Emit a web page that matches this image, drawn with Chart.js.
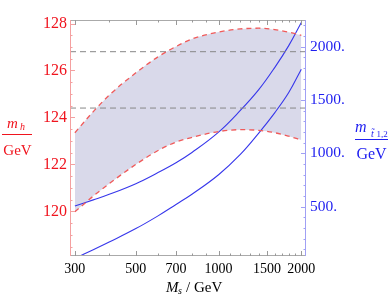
<!DOCTYPE html>
<html>
<head>
<meta charset="utf-8">
<script src="https://cdn.jsdelivr.net/npm/chart.js@4/dist/chart.umd.min.js"></script>
<style>
  html, body { margin: 0; padding: 0; background: #fff; }
  #wrap { width: 391px; height: 301px; position: relative; }
</style>
</head>
<body>
<div id="wrap"><canvas id="chart"></canvas></div>
<script>
// M_s sample points (GeV)
const msValues = [300, 350, 400, 500, 600, 700, 800, 1000, 1200, 1400, 1600, 1800, 2000];
// m_h band edges (GeV, left axis)
const mhUpper = [123.35, 124.25, 124.95, 125.9, 126.57, 127.02, 127.34, 127.64, 127.77, 127.8, 127.74, 127.63, 127.5];
const mhLower = [119.98, 120.65, 121.18, 122.0, 122.58, 122.95, 123.15, 123.4, 123.48, 123.45, 123.35, 123.2, 123.04];
// stop masses (GeV, right axis)
const mStop1 = [507, 564, 616, 716, 818, 912, 1008, 1199, 1402, 1597, 1804, 2010, 2227];
const mStop2 = [15, 97, 169, 295, 412, 521, 617, 800, 990, 1190, 1380, 1570, 1789];
// horizontal reference lines for m_h
const mhRefLines = [126.8, 124.4];

const xTicks = [300, 500, 700, 1000, 1500, 2000];
const xMinorTicks = [400, 600, 800, 900, 1100, 1200, 1300, 1400, 1600, 1700, 1800, 1900];
const mhTicks = [120, 122, 124, 126, 128];
const stopTicks = [500, 1000, 1500, 2000];

const xRange = [288, 2080];
const mhRange = [118.1, 128.15];
const stopRange = [38, 2250];

const serif = '"Liberation Serif", "DejaVu Serif", serif';
const RED = '#f0141e';
const BLUE = '#1e1ef0';

const pts = (ys) => msValues.map((x, i) => ({ x: x, y: ys[i] }));

const datasets = [
  {
    data: pts(mhUpper), yAxisID: 'yL',
    borderColor: 'rgb(240,90,90)', borderWidth: 1.3, borderDash: [5, 4],
    fill: '+1', backgroundColor: 'rgb(217,217,234)',
    pointRadius: 0, cubicInterpolationMode: 'monotone'
  },
  {
    data: pts(mhLower), yAxisID: 'yL',
    borderColor: 'rgb(240,90,90)', borderWidth: 1.3, borderDash: [5, 4],
    fill: false, pointRadius: 0, cubicInterpolationMode: 'monotone'
  }
];
mhRefLines.forEach(v => {
  datasets.push({
    data: xRange.map(x => ({ x: x, y: v })), yAxisID: 'yL',
    borderColor: 'rgb(135,135,135)', borderWidth: 1, borderDash: [6, 4],
    fill: false, pointRadius: 0
  });
});
[mStop1, mStop2].forEach(s => {
  datasets.push({
    data: pts(s), yAxisID: 'yR',
    borderColor: 'rgb(55,55,235)', borderWidth: 1.1,
    fill: false, pointRadius: 0, tension: 0.4, clip: 0
  });
});

// frame, inward ticks and the fraction-style axis titles
const decor = {
  id: 'decor',
  afterDraw(chart) {
    const ctx = chart.ctx;
    const a = chart.chartArea;
    const sx = chart.scales.x, sl = chart.scales.yL, sr = chart.scales.yR;
    ctx.save();
    ctx.lineWidth = 1;

    const line = (x1, y1, x2, y2, c) => {
      ctx.strokeStyle = c;
      ctx.beginPath(); ctx.moveTo(x1, y1); ctx.lineTo(x2, y2); ctx.stroke();
    };

    // frame
    line(a.left, a.top + 0.5, a.right, a.top + 0.5, '#aaaaaa');
    line(a.left, a.bottom - 0.5, a.right, a.bottom - 0.5, '#aaaaaa');
    line(a.left + 0.5, a.top, a.left + 0.5, a.bottom, '#f4a0a0');
    line(a.right - 0.5, a.top, a.right - 0.5, a.bottom, '#a0a0f4');

    // x ticks (top and bottom)
    const xt = (v, len) => {
      const p = Math.round(sx.getPixelForValue(v)) + 0.5;
      line(p, a.bottom, p, a.bottom - len, '#999999');
      line(p, a.top, p, a.top + len, '#999999');
    };
    xTicks.forEach(v => xt(v, 5));
    xMinorTicks.forEach(v => xt(v, 2.5));

    // left ticks
    for (let v = 118.5; v <= 128.01; v += 0.5) {
      const p = Math.round(sl.getPixelForValue(v)) + 0.5;
      const len = mhTicks.some(t => Math.abs(t - v) < 1e-6) ? 5 : 2.5;
      line(a.left, p, a.left + len, p, '#f4a0a0');
    }
    // right ticks
    for (let v = 100; v <= 2200; v += 100) {
      const p = Math.round(sr.getPixelForValue(v)) + 0.5;
      const len = stopTicks.includes(v) ? 5 : 2.5;
      line(a.right, p, a.right - len, p, '#a0a0f4');
    }

    // left title: m_h / GeV
    ctx.fillStyle = RED;
    ctx.textBaseline = 'alphabetic';
    ctx.textAlign = 'left';
    ctx.font = 'italic 15px ' + serif;
    ctx.fillText('m', 7, 128);
    ctx.font = 'italic 10px ' + serif;
    ctx.fillText('h', 20, 130);
    ctx.strokeStyle = RED;
    ctx.beginPath(); ctx.moveTo(2, 134.5); ctx.lineTo(32, 134.5); ctx.stroke();
    ctx.font = '15px ' + serif;
    ctx.textAlign = 'center';
    ctx.fillText('GeV', 17.5, 155);

    // right title: m_{t~1,2} / GeV
    ctx.fillStyle = BLUE;
    ctx.strokeStyle = BLUE;
    ctx.textAlign = 'left';
    ctx.font = 'italic 16px ' + serif;
    ctx.fillText('m', 355, 131.5);
    ctx.font = 'italic 10px ' + serif;
    ctx.fillText('t\u0303', 371, 136.5);
    ctx.font = '9px ' + serif;
    ctx.fillText('1,2', 376.5, 136.5);
    ctx.beginPath(); ctx.moveTo(355, 139.5); ctx.lineTo(388, 139.5); ctx.stroke();
    ctx.font = '16px ' + serif;
    ctx.textAlign = 'center';
    ctx.fillText('GeV', 371.5, 158.5);

    // x title: M_s / GeV
    ctx.fillStyle = '#000';
    ctx.textAlign = 'left';
    ctx.font = 'italic 15px ' + serif;
    ctx.fillText('M', 166, 291.5);
    ctx.font = 'italic 10px ' + serif;
    ctx.fillText('s', 178, 294);
    ctx.font = '15px ' + serif;
    ctx.fillText('/ GeV', 186, 291.5);

    ctx.restore();
  }
};

new Chart(document.getElementById('chart').getContext('2d'), {
  type: 'line',
  data: { datasets: datasets },
  options: {
    responsive: true,
    maintainAspectRatio: false,
    animation: false,
    layout: { padding: { top: 20, left: 0, right: 0, bottom: 0 } },
    plugins: {
      legend: { display: false },
      tooltip: { enabled: false },
      filler: { drawTime: 'beforeDatasetsDraw' }
    },
    scales: {
      x: {
        type: 'logarithmic', position: 'bottom',
        min: xRange[0], max: xRange[1],
        grid: { display: false, drawTicks: false },
        border: { display: false },
        afterBuildTicks: s => { s.ticks = xTicks.map(v => ({ value: v })); },
        afterFit: s => { s.height = 45; },
        ticks: {
          autoSkip: false, maxRotation: 0, padding: 5,
          color: '#000', font: { family: serif, size: 14 },
          callback: v => String(v)
        }
      },
      yL: {
        type: 'linear', position: 'left',
        min: mhRange[0], max: mhRange[1],
        grid: { display: false, drawTicks: false },
        border: { display: false },
        afterBuildTicks: s => { s.ticks = mhTicks.map(v => ({ value: v })); },
        afterFit: s => { s.width = 70; },
        ticks: {
          padding: 3, color: RED, font: { family: serif, size: 16 },
          callback: v => String(v)
        }
      },
      yR: {
        type: 'linear', position: 'right',
        min: stopRange[0], max: stopRange[1],
        grid: { display: false, drawTicks: false },
        border: { display: false },
        afterBuildTicks: s => { s.ticks = stopTicks.map(v => ({ value: v })); },
        afterFit: s => { s.width = 85; },
        ticks: {
          padding: 4, color: BLUE, font: { family: serif, size: 15.5 },
          callback: v => v + '.'
        }
      }
    }
  },
  plugins: [decor]
});
</script>
</body>
</html>
